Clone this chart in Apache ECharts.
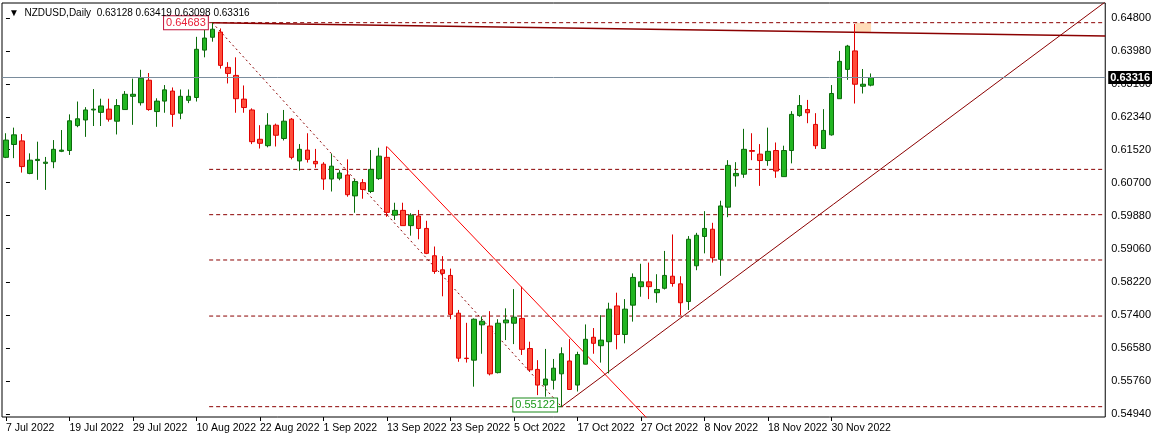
<!DOCTYPE html>
<html>
<head>
<meta charset="utf-8">
<script src="https://cdn.jsdelivr.net/npm/echarts@6/dist/echarts.min.js"></script>
<style>html,body{margin:0;padding:0;background:#fff}#main{width:1154px;height:438px}</style>
</head>
<body>
<div id="main"></div>
<script>
// NZDUSD daily, 7 Jul 2022 .. 7 Dec 2022
var opens = [.6133,.6165,.6174,.6093,.6125,.6118,.6122,.6148,.6150,.6212,
  .6226,.6251,.6245,.6253,.6223,.6252,.6285,.6269,.6325,.6247,
  .6273,.6298,.6243,.6275,.6282,.6400,.6432,.6445,.6357,.6337,
  .6278,.6251,.6178,.6162,.6213,.6180,.6228,.6124,.6151,.6123,
  .6116,.6079,.6081,.6089,.6037,.6070,.6048,.6080,.6133,.5989,
  .6001,.5963,.5987,.5956,.5888,.5853,.5839,.5745,.5633,.5628,
  .5716,.5713,.5597,.5721,.5720,.5732,.5657,.5605,.5566,.5578,
  .5594,.5626,.5566,.5618,.5685,.5664,.5674,.5763,.5692,.5765,
  .5811,.5823,.5796,.5807,.5837,.5818,.5774,.5863,.5936,.5954,
  .5879,.6009,.6087,.6091,.6150,.6141,.6125,.6150,.6085,.6150,
  .6237,.6252,.6215,.6155,.6189,.6279,.6352,.6398,.6310,.63128];
var closes = [.6176,.6189,.6110,.6126,.6128,.6121,.6153,.6151,.6224,.6229,
  .6251,.6253,.6261,.6228,.6262,.6290,.6290,.6330,.6252,.6273,
  .6301,.6240,.6285,.6285,.6402,.6430,.6452,.6362,.6342,.6279,
  .6257,.6172,.6168,.6213,.6188,.6223,.6133,.6153,.6128,.6117,
  .6079,.6111,.6094,.6040,.6073,.6053,.6103,.6136,.5996,.6001,
  .5963,.5989,.5956,.5894,.5849,.5844,.5742,.5633,.5632,.5730,
  .5725,.5594,.5720,.5728,.5735,.5655,.5604,.5566,.5581,.5608,
  .5644,.5555,.5642,.5680,.5670,.5678,.5755,.5692,.5755,.5834,
  .5823,.5811,.5804,.5839,.5819,.5771,.5929,.5939,.5956,.5883,
  .6012,.6113,.6093,.6153,.6148,.6125,.6148,.6099,.6150,.6240,
  .6262,.6244,.6162,.6200,.6292,.6372,.6410,.6315,.6315,.63316];
var highs = [.6193,.6207,.6191,.6143,.6172,.6134,.6176,.6201,.6240,.6272,
  .6258,.6303,.6279,.6279,.6278,.6298,.6329,.6351,.6343,.6280,
  .6313,.6307,.6302,.6302,.6433,.6461,.64683,.6454,.6370,.6382,
  .6312,.6255,.6213,.6243,.6217,.6251,.6231,.6166,.6193,.6154,
  .6121,.6142,.6101,.6128,.6079,.6079,.6151,.6157,.6160,.6020,
  .6020,.5994,.6002,.5975,.5911,.5887,.5856,.5753,.5721,.5732,
  .5737,.5750,.5730,.5757,.5805,.5811,.5674,.5628,.5656,.5631,
  .5660,.5681,.5649,.5717,.5708,.5740,.5771,.5796,.5780,.5844,
  .5868,.5871,.5842,.5900,.5941,.5837,.5937,.5945,.5999,.5970,
  .6025,.6126,.6121,.6204,.6193,.6166,.6207,.6170,.6162,.6248,
  .6288,.6276,.6243,.6253,.6313,.6398,.6413,.6465,.6353,.63419];
var lows = [.6131,.6131,.6095,.6091,.6077,.6052,.6106,.6146,.6139,.6208,
  .6184,.6211,.6211,.6222,.6190,.6251,.6214,.6262,.6249,.6209,
  .6244,.6209,.6228,.6268,.6272,.6382,.6421,.6354,.6317,.6244,
  .6244,.6166,.6155,.6158,.6160,.6175,.6128,.6100,.6120,.6107,
  .6052,.6048,.6076,.6035,.5995,.6030,.6044,.6077,.5985,.5977,
  .5963,.5938,.5929,.5892,.5843,.5787,.5730,.5624,.5622,.5562,
  .5644,.5590,.5595,.5678,.5668,.5641,.5600,.5541,.5537,.5555,
  .55122,.5554,.5550,.5618,.5644,.5622,.5595,.5655,.5670,.5724,
  .5786,.5780,.5771,.5804,.5811,.5740,.5753,.5852,.5894,.5871,
  .5838,.5984,.6060,.6082,.6126,.6062,.6112,.6082,.6085,.6118,
  .6234,.6218,.6154,.6155,.6187,.6279,.6326,.6267,.6292,.63098];

var priceTicks = [0.5494,0.5576,0.5658,0.5740,0.5822,0.5906,0.5988,0.6070,0.6152,0.6234,0.6316,0.6398,0.6480];
var fibNames = ['0.0','23.6','38.2','50.0','61.8','100.0'];
var fibRatios = [0, 0.236, 0.382, 0.5, 0.618, 1];
var swingHigh = 0.64683, swingLow = 0.55122, lastPrice = 0.63316;

var NCAT = 139;
var months = ['Jan','Feb','Mar','Apr','May','Jun','Jul','Aug','Sep','Oct','Nov','Dec'];
var dates = [];
var d = new Date(2022, 6, 7);
while (dates.length < NCAT) {
  if (d.getDay() != 0 && d.getDay() != 6) dates.push(d.getDate() + ' ' + months[d.getMonth()] + ' ' + d.getFullYear());
  d.setDate(d.getDate() + 1);
}

var candles = opens.map(function (o, i) { return [o, closes[i], lows[i], highs[i]]; });

var FONT = 'Liberation Sans';
var DR = '#8b0000';
var series = [];

function seg(pts, color, type, width) {
  series.push({ type: 'line', xAxisIndex: 1, data: pts, symbol: 'none', silent: true, animation: false,
    lineStyle: { color: color, type: type, width: width } });
}

// current price line, drawn under the candles
series.push({ type: 'line', xAxisIndex: 1, symbol: 'none', silent: true, animation: false, z: 1, data: [],
  markLine: {
    symbol: 'none', silent: true, animation: false,
    lineStyle: { color: '#7a8c9c', type: 'solid', width: 1 },
    label: { position: 'end', distance: 3, formatter: '0.63316', color: '#fff', backgroundColor: '#000',
      fontFamily: FONT, fontSize: 11, fontWeight: 'bold', padding: [1, 2] },
    data: [[{ coord: [-0.5, lastPrice] }, { coord: [138.5, lastPrice] }]]
  }
});

series.push({
  type: 'candlestick',
  data: candles,
  z: 3,
  barWidth: 5,
  itemStyle: { color: '#22b522', color0: '#ff4d3a', borderColor: '#0b6b0b', borderColor0: '#e00000', borderWidth: 1 },
  markPoint: {
    symbol: 'rect', symbolSize: 1, silent: true, animation: false,
    itemStyle: { color: 'transparent' },
    data: [
      { coord: [26, swingHigh], label: { show: true, formatter: '0.64683', position: 'left', distance: 4, color: '#e8203a',
        borderColor: '#c0103a', borderWidth: 1, backgroundColor: '#fff', padding: [1, 2], fontSize: 11, fontFamily: FONT } },
      { coord: [70, swingLow + 0.0004], label: { show: true, formatter: '0.55122', position: 'left', distance: 4, color: '#1a9a1a',
        borderColor: '#1a8a1a', borderWidth: 1, backgroundColor: '#fff', padding: [1, 2], fontSize: 11, fontFamily: FONT } }
    ]
  },
  markArea: {
    silent: true, itemStyle: { color: '#ffdcb8' },
    data: [[{ coord: [107, 0.6468] }, { coord: [109, 0.6445] }]]
  }
});

fibRatios.forEach(function (r, k) {
  var lv = swingLow + (swingHigh - swingLow) * r;
  series.push({ type: 'line', xAxisIndex: 1, symbol: 'none', silent: true, animation: false,
    lineStyle: { color: DR, type: [4, 3], width: 1 },
    data: [[25.6, lv], { value: [138.4, lv], symbol: 'none',
      label: { show: true, formatter: fibNames[k], position: 'top', align: 'right', offset: [-2, 3], color: DR, fontSize: 10, fontFamily: FONT } }]
  });
});
seg([[26, swingHigh], [138.5, 0.6435]], DR, 'solid', 1.5);
seg([[26, swingHigh], [70, swingLow]], DR, [2, 3], 1);
seg([[48, 0.6160], [82, 0.5458]], '#ff0000', 'solid', 1);
seg([[70, swingLow], [138.5, 0.6520]], DR, 'solid', 1);
seg([[66.5, swingLow], [70, swingLow]], '#1a8a1a', 'solid', 1);

var option = {
  animation: false,
  title: { text: '▼  NZDUSD,Daily  0.63128 0.63419 0.63098 0.63316', left: 4, top: 3,
    textStyle: { fontFamily: FONT, fontSize: 10, fontWeight: 'normal', color: '#000' } },
  grid: { left: 2, right: 46, top: 3, bottom: 21, show: true, borderColor: '#000', borderWidth: 1 },
  xAxis: [{
    type: 'category', data: dates, boundaryGap: true,
    axisLine: { show: false },
    axisTick: { show: true, alignWithLabel: true, interval: function (i) { return i % 8 == 0 && i <= 104; }, length: 4, lineStyle: { color: '#000' } },
    axisLabel: { interval: function (i) { return i % 8 == 0 && i <= 104; }, align: 'left', margin: 6, color: '#000', fontSize: 10.5, fontFamily: FONT },
    splitLine: { show: false }
  }, {
    type: 'value', min: -0.5, max: NCAT - 0.5, show: false
  }],
  yAxis: {
    type: 'value', position: 'right', min: 0.54865, max: 0.65173, scale: true,
    axisLine: { show: false },
    axisTick: { show: true, length: 4, lineStyle: { color: '#000' }, customValues: priceTicks },
    axisLabel: { customValues: priceTicks, margin: 6, color: '#000', fontSize: 11, fontFamily: FONT,
      formatter: function (v) { return v.toFixed(5); } },
    splitLine: { show: false }
  },
  series: series
};
echarts.init(document.getElementById('main')).setOption(option);
</script>
</body>
</html>
